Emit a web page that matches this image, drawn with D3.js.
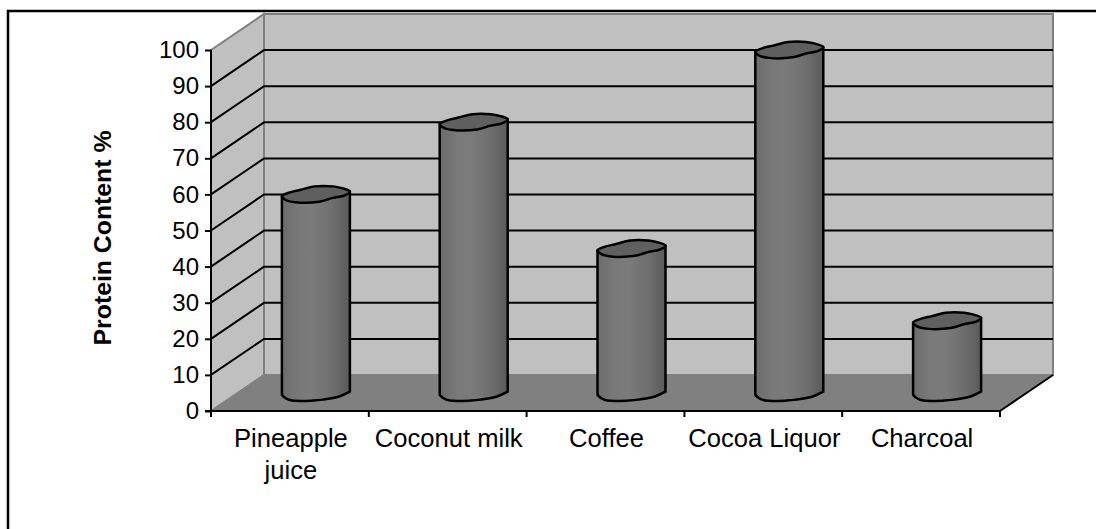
<!DOCTYPE html>
<html>
<head>
<meta charset="utf-8">
<script src="https://cdn.jsdelivr.net/npm/d3@7/dist/d3.min.js"></script>
<style>
  html, body { margin: 0; padding: 0; background: #fff; overflow: hidden; }
  svg { display: block; font-family: "Liberation Sans", Arial, sans-serif; }
</style>
</head>
<body>
<svg id="chart" width="1096" height="529"></svg>
<script>
const categories = [["Pineapple", "juice"], ["Coconut milk"], ["Coffee"], ["Cocoa Liquor"], ["Charcoal"]];
const proteinContent = [55, 75, 40, 95, 20];
const yTicks = [0, 10, 20, 30, 40, 50, 60, 70, 80, 90, 100];
const axisTitle = "Protein Content %";

const svg = d3.select("#chart");

// floor and walls are sheared by this much
const depthX = 53, depthY = -36;
const x0 = 211, x1 = 1000, yBase = 411, yTop = 50;

const x = d3.scaleBand().domain(d3.range(categories.length)).range([x0, x1]);
const y = d3.scaleLinear().domain([0, 100]).range([yBase, yTop]);

const poly = (pts) => d3.line()(pts) + "Z";

// page frame only shows on the top and left
svg.append("path").attr("d", "M8,529V11H1096")
  .attr("fill", "none").attr("stroke", "#000").attr("stroke-width", 2.5);

// walls
svg.append("path")
  .attr("d", poly([[x0 + depthX, yTop + depthY], [x1 + depthX, yTop + depthY], [x1 + depthX, yBase + depthY], [x0 + depthX, yBase + depthY]]))
  .attr("fill", "#c0c0c0").attr("stroke", "#808080").attr("stroke-width", 2);
svg.append("path")
  .attr("d", poly([[x0, yTop], [x0 + depthX, yTop + depthY], [x0 + depthX, yBase + depthY], [x0, yBase]]))
  .attr("fill", "#c0c0c0").attr("stroke", "#808080").attr("stroke-width", 2);
svg.append("path")
  .attr("d", poly([[x0, yBase], [x0 + depthX, yBase + depthY], [x1 + depthX, yBase + depthY], [x1, yBase]]))
  .attr("fill", "#808080").attr("stroke", "#808080").attr("stroke-width", 1);

// gridlines
yTicks.slice(1, -1).forEach((t) => {
  svg.append("path")
    .attr("d", d3.line()([[x0, y(t)], [x0 + depthX, y(t) + depthY], [x1 + depthX, y(t) + depthY]]))
    .attr("fill", "none").attr("stroke", "#000").attr("stroke-width", 2);
});

// floor front-right edge
svg.append("line")
  .attr("x1", x1).attr("y1", yBase).attr("x2", x1 + depthX).attr("y2", yBase + depthY)
  .attr("stroke", "#000").attr("stroke-width", 2);

// axes
const yAxis = d3.axisLeft(y).tickValues(yTicks).tickSize(6).tickPadding(6);
const gy = svg.append("g").attr("transform", `translate(${x0},0)`).call(yAxis);
gy.selectAll("text").attr("font-size", 24).attr("font-family", "Liberation Sans").attr("fill", "#000");
gy.selectAll("line").attr("stroke", "#000").attr("stroke-width", 2);
gy.select(".domain").attr("stroke", "#000").attr("stroke-width", 2).attr("d", `M0,${yTop}V${yBase}`);

const xEdge = d3.scaleLinear().domain([0, categories.length]).range([x0, x1]);
svg.append("g").selectAll("line").data(d3.range(categories.length + 1)).join("line")
  .attr("x1", (d) => xEdge(d)).attr("x2", (d) => xEdge(d))
  .attr("y1", yBase).attr("y2", yBase + 6)
  .attr("stroke", "#000").attr("stroke-width", 2);
svg.append("line").attr("x1", x0 - 6).attr("x2", x1).attr("y1", yBase).attr("y2", yBase)
  .attr("stroke", "#000").attr("stroke-width", 2);

// bars: slightly lumpy cylinders, like the scanned original
const barW = 68, capH = 17, barDX = 26, barDY = -18;
const defs = svg.append("defs");
const grad = defs.append("linearGradient").attr("id", "barFill");
[[0, "#6c6c6c"], [0.12, "#727272"], [0.25, "#797979"], [0.45, "#7b7b7b"], [0.6, "#757575"], [0.75, "#6e6e6e"], [0.9, "#626262"], [1, "#5a5a5a"]].forEach(([o, c]) => {
  grad.append("stop").attr("offset", o).attr("stop-color", c);
});
const capOutline = [[-1, 0.2], [-0.8, -0.2], [-0.45, -0.55], [-0.04, -0.95], [0.5, -0.95], [0.76, -0.75], [1, -0.35], [0.85, 0.1], [0.5, 0.4], [0.1, 0.85], [-0.6, 0.92], [-0.9, 0.62]];
const bottomOutline = [[1, -0.15], [0.69, 0.41], [0.21, 0.78], [-0.08, 0.89], [-0.71, 0.89], [-0.9, 0.59], [-1, 0.22]];
const smooth = d3.line().curve(d3.curveCatmullRomClosed);
const smoothOpen = d3.line().curve(d3.curveCatmullRom);

const bars = svg.append("g").selectAll("g").data(proteinContent).join("g")
  .attr("transform", (d, i) => `translate(${x(i) + x.bandwidth() / 2 + barDX},${barDY})`);
bars.append("path")
  .attr("d", (d) => {
    const top = y(d);
    const pts = bottomOutline.map(([a, b]) => [a * barW / 2, yBase + b * capH / 2]);
    return `M${-barW / 2},${top + 2}L${barW / 2},${top - 3}L${pts[0][0]},${pts[0][1]}` + smoothOpen(pts).replace(/^M[^C]*/, "") + "Z";
  })
  .attr("fill", "url(#barFill)").attr("stroke", "#000").attr("stroke-width", 2.5).attr("stroke-linejoin", "round");
bars.append("path")
  .attr("d", (d) => smooth(capOutline.map(([a, b]) => [a * barW / 2, y(d) + b * capH / 2])))
  .attr("fill", "#5f5f5f").attr("stroke", "#000").attr("stroke-width", 2.5);

// category labels
const labels = svg.append("g").selectAll("text").data(categories).join("text")
  .attr("text-anchor", "middle").attr("font-size", 25.6).attr("fill", "#000")
  .attr("transform", (d, i) => `translate(${x(i) + x.bandwidth() / 2 + 1},447)`);
labels.selectAll("tspan").data((d) => d).join("tspan")
  .attr("x", 0).attr("dy", (d, i) => (i ? 32 : 0)).text((d) => d);

svg.append("text")
  .attr("transform", "translate(111,238) rotate(-90)")
  .attr("text-anchor", "middle").attr("font-size", 24.8).attr("font-weight", "bold").attr("fill", "#000")
  .text(axisTitle);
</script>
</body>
</html>
